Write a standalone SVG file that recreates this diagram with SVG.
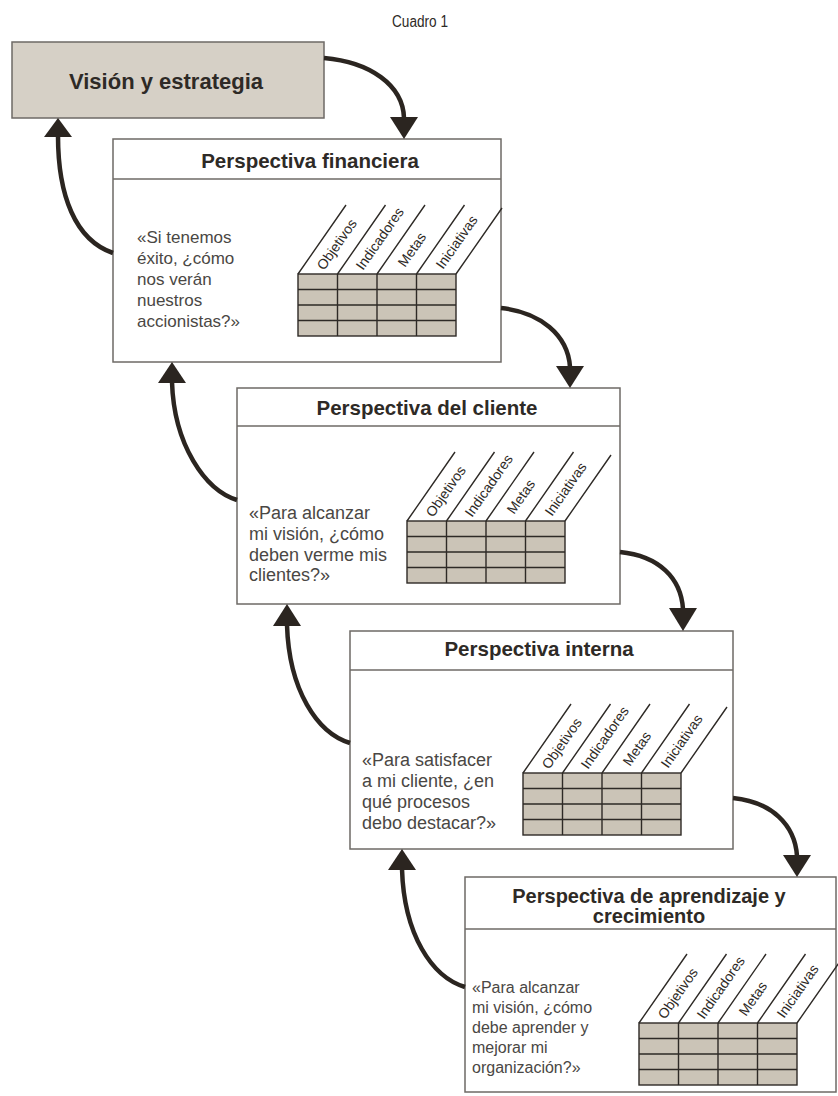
<svg xmlns="http://www.w3.org/2000/svg" xmlns:xlink="http://www.w3.org/1999/xlink" width="838" height="1096" viewBox="0 0 838 1096">
<style>
.box{fill:#ffffff;stroke:#6e6a66;stroke-width:1.5}
.vbox{fill:#d6d0c6;stroke:#6e6a66;stroke-width:1.5}
.sep{stroke:#6e6a66;stroke-width:1.5}
.title{font-family:"Liberation Sans",Arial,sans-serif;font-weight:bold;font-size:20.5px;fill:#2e2a26;text-anchor:middle}
.body{font-family:"Liberation Sans",Arial,sans-serif;fill:#4a4744}
.lbl{font-family:"Liberation Sans",Arial,sans-serif;font-size:14px;fill:#2e2a26}
.grid{fill:#cbc4b7;stroke:#2e2a26;stroke-width:1.4}
.gl{stroke:#2e2a26;stroke-width:1.4;fill:none}
.conn{fill:none;stroke:#2b2520;stroke-width:4.5}
.head{fill:#2b2520}
</style>
<defs>
<g id="scorecard">
<rect class="grid" x="0" y="0" width="158" height="62"/>
<path class="gl" d="M39.5,0V62M79,0V62M118.5,0V62M0,15.5H158M0,31H158M0,46.5H158"/>
<path class="gl" d="M0,0l48,-69M39.5,0l48,-69M79,0l48,-69M118.5,0l48,-69M158,0l46,-66"/>
<text class="lbl" transform="translate(26,-3) rotate(-55)">Objetivos</text>
<text class="lbl" transform="translate(65,-3) rotate(-55)">Indicadores</text>
<text class="lbl" transform="translate(107,-6) rotate(-55)">Metas</text>
<text class="lbl" transform="translate(145,-4) rotate(-55)">Iniciativas</text>
</g>
</defs>
<rect width="838" height="1096" fill="#ffffff"/>
<text x="420" y="27" font-family="'Liberation Sans',Arial,sans-serif" font-size="16" fill="#2e2a26" text-anchor="middle" textLength="56" lengthAdjust="spacingAndGlyphs">Cuadro 1</text>

<g id="vision">
<rect class="vbox" x="12" y="42" width="312" height="76"/>
<text class="title" x="166" y="89" style="font-size:22px">Visión y estrategia</text>
</g>

<g id="financiera">
<rect class="box" x="113" y="139" width="388" height="223"/>
<line class="sep" x1="113" y1="179" x2="501" y2="179"/>
<text class="title" x="310" y="168">Perspectiva financiera</text>
<text class="body" font-size="17">
<tspan x="137" y="243">«Si tenemos</tspan>
<tspan x="137" y="264">éxito, ¿cómo</tspan>
<tspan x="137" y="285">nos verán</tspan>
<tspan x="137" y="306">nuestros</tspan>
<tspan x="137" y="327">accionistas?»</tspan>
</text>
<use xlink:href="#scorecard" href="#scorecard" x="298" y="274"/>
</g>

<g id="cliente">
<rect class="box" x="237" y="388" width="383" height="216"/>
<line class="sep" x1="237" y1="426" x2="620" y2="426"/>
<text class="title" x="427" y="415">Perspectiva del cliente</text>
<text class="body" font-size="18">
<tspan x="249" y="519">«Para alcanzar</tspan>
<tspan x="249" y="540">mi visión, ¿cómo</tspan>
<tspan x="249" y="561">deben verme mis</tspan>
<tspan x="249" y="581">clientes?»</tspan>
</text>
<use xlink:href="#scorecard" href="#scorecard" x="407" y="521"/>
</g>

<g id="interna">
<rect class="box" x="350" y="631" width="383" height="218"/>
<line class="sep" x1="350" y1="670" x2="733" y2="670"/>
<text class="title" x="539" y="656">Perspectiva interna</text>
<text class="body" font-size="18">
<tspan x="362" y="766">«Para satisfacer</tspan>
<tspan x="362" y="787">a mi cliente, ¿en</tspan>
<tspan x="362" y="808">qué procesos</tspan>
<tspan x="362" y="829">debo destacar?»</tspan>
</text>
<use xlink:href="#scorecard" href="#scorecard" x="523" y="773"/>
</g>

<g id="aprendizaje">
<rect class="box" x="465" y="877" width="371" height="215"/>
<line class="sep" x1="465" y1="929" x2="836" y2="929"/>
<text class="title" x="649" y="903" style="font-size:20px">Perspectiva de aprendizaje y</text>
<text class="title" x="649" y="923" style="font-size:20px">crecimiento</text>
<text class="body" font-size="16">
<tspan x="472" y="993">«Para alcanzar</tspan>
<tspan x="472" y="1013">mi visión, ¿cómo</tspan>
<tspan x="472" y="1033">debe aprender y</tspan>
<tspan x="472" y="1053">mejorar mi</tspan>
<tspan x="472" y="1073">organización?»</tspan>
</text>
<use xlink:href="#scorecard" href="#scorecard" x="639" y="1023"/>
</g>

<g id="connectors">
<path class="conn" d="M324,58 C370,62 403,85 404,118"/>
<polygon class="head" points="390,117 418,117 404,139"/>
<path class="conn" d="M501,308 C540,312 568,335 570,367"/>
<polygon class="head" points="556,366 584,366 570,388"/>
<path class="conn" d="M620,552 C659,556 681,578 683,609"/>
<polygon class="head" points="669,608 697,608 683,631"/>
<path class="conn" d="M733,798 C772,802 795,825 797,856"/>
<polygon class="head" points="783,855 811,855 797,877"/>

<path class="conn" d="M113,253 C75,240 58,195 58,136"/>
<polygon class="head" points="44,137 72,137 58,118"/>
<path class="conn" d="M237,500 C205,490 174,445 172,382"/>
<polygon class="head" points="158,383 186,383 172,362"/>
<path class="conn" d="M350,743 C317,733 289,690 287,625"/>
<polygon class="head" points="273,626 301,626 287,604"/>
<path class="conn" d="M465,987 C432,977 404,935 402,869"/>
<polygon class="head" points="388,870 416,870 402,849"/>
</g>
</svg>
